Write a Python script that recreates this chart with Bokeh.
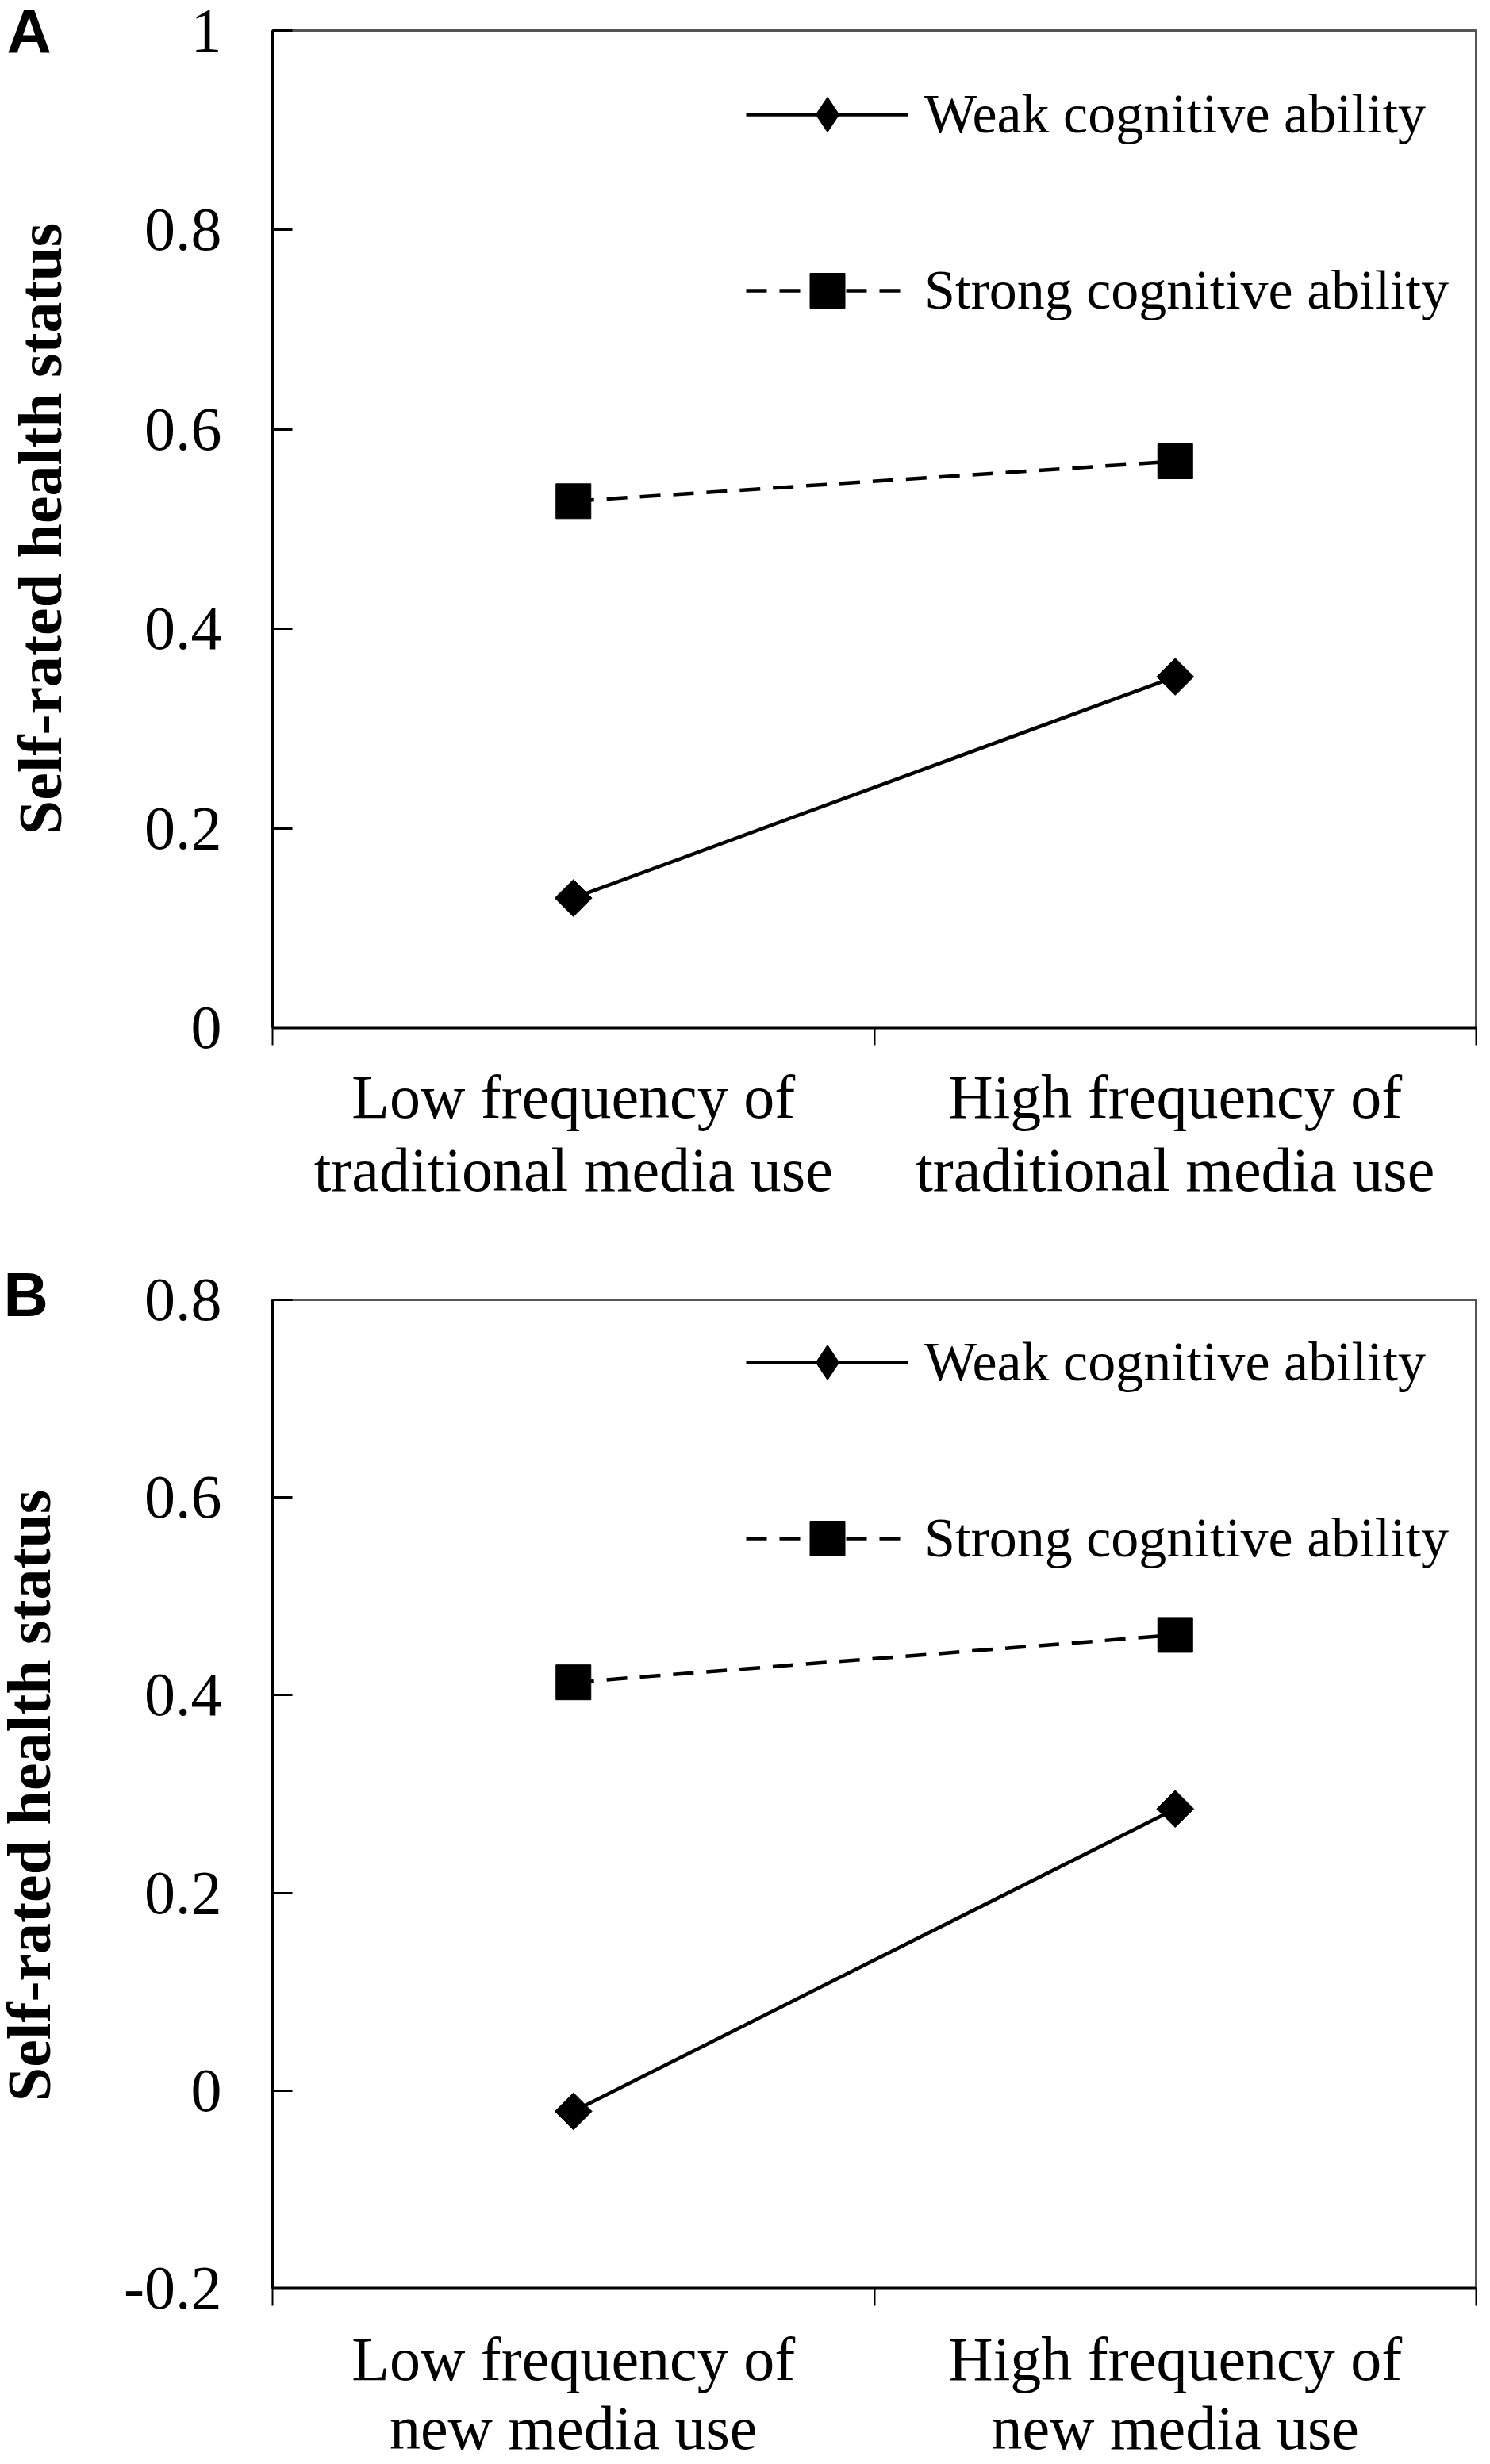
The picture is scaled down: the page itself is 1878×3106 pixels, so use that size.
import math
from bokeh.plotting import figure
from bokeh.models import (Range1d, FixedTicker, NumeralTickFormatter, Legend, LegendItem, Label)
from bokeh.layouts import column, row
from bokeh.embed import file_html
from bokeh.resources import INLINE

# ---- data ----
cats_a = ["Low frequency of\ntraditional media use", "High frequency of\ntraditional media use"]
cats_b = ["Low frequency of\nnew media use", "High frequency of\nnew media use"]
weak_a = [0.130, 0.352]
strong_a = [0.528, 0.568]
weak_b = [-0.021, 0.285]
strong_b = [0.413, 0.461]
yticks_a = [0, 0.2, 0.4, 0.6, 0.8, 1.0]
yticks_b = [-0.2, 0, 0.2, 0.4, 0.6, 0.8]
series_names = ["Weak cognitive ability", "Strong cognitive ability"]
panel_letters = ["A", "B"]
y_title = "Self-rated health status"

SERIF = "Liberation Serif"
PAGE_W, PAGE_H = 1878, 3106
SIDE_W = 95
MAIN_W = PAGE_W - SIDE_W
HA = 1580
HB = PAGE_H - HA


def side_strip(height, letter_spots, title_spots):
    """Narrow strip left of both panels holding the panel letters and y-axis titles."""
    s = figure(width=SIDE_W, height=height, output_backend="svg", toolbar_location=None,
               x_range=Range1d(0, SIDE_W), y_range=Range1d(height, 0),
               x_axis_location=None, y_axis_location=None, min_border=0)
    s.grid.visible = False
    s.outline_line_color = None
    s.background_fill_color = "white"
    s.border_fill_color = "white"
    for letter, (lx, ly) in zip(panel_letters, letter_spots):
        s.add_layout(Label(x=lx, y=ly, text=letter, text_font="Liberation Sans",
                           text_font_style="bold", text_font_size="78px", text_color="black",
                           text_align="left", text_baseline="middle"))
    for tx, ty in title_spots:
        s.add_layout(Label(x=tx, y=ty, text=y_title, angle=math.pi / 2, text_font=SERIF,
                           text_font_style="bold", text_font_size="78px", text_color="black",
                           text_align="center", text_baseline="middle"))
    return s


def make_panel(cats, weak, strong, yticks, height, borders, legend_loc,
               xlab_standoff, xlab_lh):
    n = len(cats)
    xs = [i + 0.5 for i in range(n)]
    bl, br, bt, bb = borders
    p = figure(width=MAIN_W, height=height, output_backend="svg", toolbar_location=None,
               x_range=Range1d(0, n), y_range=Range1d(yticks[0], yticks[-1]),
               min_border_left=bl, min_border_right=br, min_border_top=bt, min_border_bottom=bb)
    p.background_fill_color = "white"
    p.border_fill_color = "white"
    p.grid.visible = False
    p.outline_line_color = "#555555"
    p.outline_line_width = 3

    # x axis: category labels centred, tick marks on the category boundaries
    xa = p.xaxis[0]
    xa.ticker = FixedTicker(ticks=xs, minor_ticks=list(range(n + 1)))
    xa.major_label_overrides = {x: c for x, c in zip(xs, cats)}
    xa.major_tick_in = 0
    xa.major_tick_out = 0
    xa.minor_tick_in = 0
    xa.minor_tick_out = 22
    xa.minor_tick_line_color = "black"
    xa.minor_tick_line_width = 2
    xa.axis_line_color = "black"
    xa.axis_line_width = 4
    xa.major_label_text_font = SERIF
    xa.major_label_text_font_size = "78px"
    xa.major_label_text_color = "black"
    xa.major_label_text_line_height = xlab_lh
    xa.major_label_standoff = xlab_standoff

    # y axis
    ya = p.yaxis[0]
    ya.ticker = FixedTicker(ticks=yticks)
    ya.formatter = NumeralTickFormatter(format="0.[0]")
    ya.major_tick_in = 25
    ya.major_tick_out = 0
    ya.major_tick_line_color = "black"
    ya.major_tick_line_width = 3
    ya.minor_tick_line_color = None
    ya.axis_line_color = "black"
    ya.axis_line_width = 3
    ya.major_label_text_font = SERIF
    ya.major_label_text_font_size = "78px"
    ya.major_label_text_color = "black"
    ya.major_label_standoff = 64

    lw = p.line(xs, weak, line_color="black", line_width=4.5)
    # diamond key used by the legend (hidden beneath the rotated square markers)
    kw = p.scatter(xs, weak, marker="diamond", size=44, fill_color="black", line_color="black")
    p.scatter(xs, weak, marker="square", angle=math.pi / 4, size=33,
              fill_color="black", line_color="black")
    ls = p.line(xs, strong, line_color="black", line_width=4.5, line_dash="26 16")
    ss = p.scatter(xs, strong, marker="square", size=44,
                   fill_color="black", line_color="black")

    legend = Legend(items=[LegendItem(label=series_names[0], renderers=[lw, kw]),
                           LegendItem(label=series_names[1], renderers=[ls, ss])],
                    location=legend_loc, glyph_width=205, glyph_height=110,
                    label_height=110, label_standoff=20, spacing=112, padding=0, margin=0,
                    border_line_color=None, background_fill_alpha=0,
                    label_text_font=SERIF, label_text_font_size="70px",
                    label_text_color="black")
    p.add_layout(legend)
    return p


side = side_strip(PAGE_H, [(8, 39), (4, 1631)], [(50, 666), (36, 2263)])
pa = make_panel(cats_a, weak_a, strong_a, yticks_a, HA, (248, 18, 38, 285),
                (597, 874), 21, 1.06)
pb = make_panel(cats_b, weak_b, strong_b, yticks_b, HB, (245, 18, 58, 217),
                (597, 890), 23, 1.0)

layout = row(side, column(pa, pb, spacing=0), spacing=0)
open("out.html", "w").write(file_html(layout, INLINE))
